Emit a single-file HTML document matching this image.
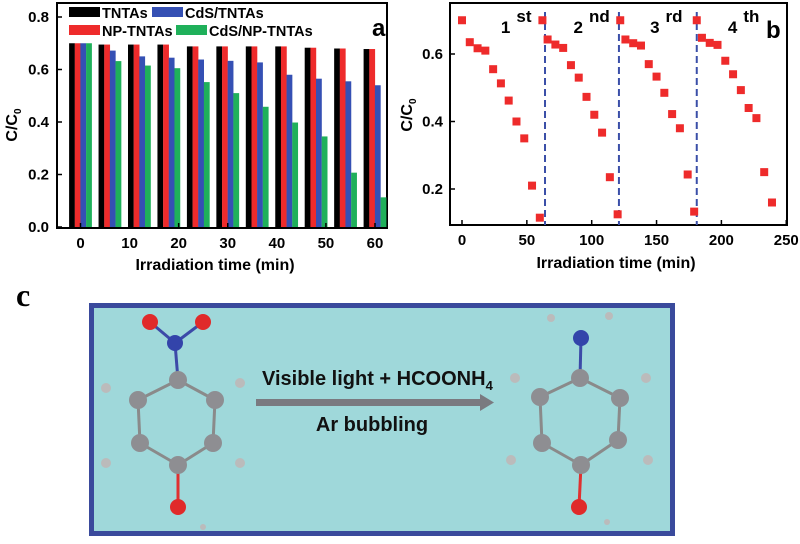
<!DOCTYPE html>
<html><head><meta charset="utf-8"><style>
body{margin:0;background:#fff;width:800px;height:539px;overflow:hidden}
svg text{font-family:"Liberation Sans",sans-serif}
</style></head><body>
<svg id="fig" width="800" height="539" viewBox="0 0 800 539">
<g id="chartA"></g>
<g id="chartB"></g>
<g id="panelC">
<text x="16" y="306" font-weight="bold" font-size="32" style="font-family:'Liberation Serif',serif">c</text>
<rect x="91.5" y="305.5" width="581" height="228" fill="#9fd8da" stroke="#3a4a9c" stroke-width="5"/>
<g stroke="#8a8a8a" stroke-width="3">
<line x1="178" y1="380" x2="138" y2="400"/><line x1="178" y1="380" x2="215" y2="400"/><line x1="138" y1="400" x2="140" y2="443"/><line x1="215" y1="400" x2="213" y2="443"/><line x1="140" y1="443" x2="178" y2="465"/><line x1="213" y1="443" x2="178" y2="465"/>
<line x1="178" y1="380" x2="175" y2="343" stroke="#3c4aa8"/><line x1="175" y1="343" x2="150" y2="322" stroke="#3c4aa8"/><line x1="175" y1="343" x2="203" y2="322" stroke="#3c4aa8"/><line x1="178" y1="465" x2="178" y2="507" stroke="#e03030"/>
<g stroke="none"><circle cx="106" cy="388" r="5" fill="#bbb"/><circle cx="240" cy="383" r="5" fill="#bbb"/><circle cx="106" cy="463" r="5" fill="#bbb"/><circle cx="240" cy="463" r="5" fill="#bbb"/><circle cx="203" cy="527" r="3" fill="#bbb"/>
<circle cx="178" cy="380" r="9" fill="#8e8e92"/><circle cx="138" cy="400" r="9" fill="#8e8e92"/><circle cx="215" cy="400" r="9" fill="#8e8e92"/><circle cx="140" cy="443" r="9" fill="#8e8e92"/><circle cx="213" cy="443" r="9" fill="#8e8e92"/><circle cx="178" cy="465" r="9" fill="#8e8e92"/>
<circle cx="175" cy="343" r="8" fill="#3344aa"/><circle cx="150" cy="322" r="8" fill="#e02a2a"/><circle cx="203" cy="322" r="8" fill="#e02a2a"/><circle cx="178" cy="507" r="8" fill="#e02a2a"/></g></g>
<g><rect x="256" y="399" width="226" height="7" fill="#7a7a80"/><polygon points="480,394 494,402.5 480,411" fill="#7a7a80"/></g>
<text x="262" y="385" font-size="20" font-weight="bold" fill="#111">Visible light + HCOONH<tspan font-size="13" dy="5">4</tspan></text>
<text x="372" y="431" font-size="20" font-weight="bold" fill="#111" text-anchor="middle">Ar bubbling</text>
<g stroke="#8a8a8a" stroke-width="3">
<line x1="580" y1="378" x2="540" y2="397"/><line x1="580" y1="378" x2="620" y2="398"/><line x1="540" y1="397" x2="542" y2="443"/><line x1="620" y1="398" x2="618" y2="440"/><line x1="542" y1="443" x2="581" y2="465"/><line x1="618" y1="440" x2="581" y2="465"/>
<line x1="580" y1="378" x2="581" y2="338" stroke="#3c4aa8"/><line x1="581" y1="465" x2="579" y2="507" stroke="#e03030"/>
<g stroke="none"><circle cx="551" cy="318" r="4" fill="#bbb"/><circle cx="609" cy="316" r="4" fill="#bbb"/><circle cx="515" cy="378" r="5" fill="#bbb"/><circle cx="646" cy="378" r="5" fill="#bbb"/><circle cx="511" cy="460" r="5" fill="#bbb"/><circle cx="648" cy="460" r="5" fill="#bbb"/><circle cx="607" cy="522" r="3" fill="#bbb"/>
<circle cx="580" cy="378" r="9" fill="#8e8e92"/><circle cx="540" cy="397" r="9" fill="#8e8e92"/><circle cx="620" cy="398" r="9" fill="#8e8e92"/><circle cx="542" cy="443" r="9" fill="#8e8e92"/><circle cx="618" cy="440" r="9" fill="#8e8e92"/><circle cx="581" cy="465" r="9" fill="#8e8e92"/>
<circle cx="581" cy="338" r="8" fill="#3344aa"/><circle cx="579" cy="507" r="8" fill="#e02a2a"/></g></g>
</g>
</svg>
<script>
// Chart a data
const timesA = [0,6,12,18,24,30,36,42,48,54,60];
const tntas = [0.70,0.695,0.695,0.695,0.688,0.688,0.688,0.688,0.683,0.680,0.678];
const npTntas = [0.70,0.695,0.695,0.695,0.688,0.688,0.688,0.688,0.683,0.680,0.678];
const cdsTntas = [0.70,0.672,0.650,0.645,0.638,0.633,0.627,0.580,0.565,0.555,0.540];
const cdsNpTntas = [0.70,0.632,0.615,0.605,0.552,0.510,0.458,0.398,0.345,0.207,0.113];
const xTicksA = [0,10,20,30,40,50,60];
const yTicksA = [0.0,0.2,0.4,0.6,0.8];
// Chart b data
const timesB = [0,6,12,18,24,30,36,42,48,54,60, 62,66,72,78,84,90,96,102,108,114,120, 122,126,132,138,144,150,156,162,168,174,179, 181,185,191,197,203,209,215,221,227,233,239];
const ratioB = [0.70,0.635,0.617,0.610,0.555,0.513,0.462,0.400,0.350,0.210,0.115, 0.70,0.643,0.628,0.618,0.567,0.530,0.473,0.420,0.367,0.235,0.125, 0.70,0.643,0.632,0.625,0.570,0.533,0.485,0.422,0.380,0.243,0.133, 0.70,0.648,0.633,0.627,0.580,0.540,0.493,0.440,0.410,0.250,0.160];
const cycleLines = [64,121,181];
const cycleLabels = [["1","st",30],["2","nd",86],["3","rd",145],["4","th",205]];
const xTicksB = [0,50,100,150,200,250];
const yTicksB = [0.2,0.4,0.6];

const NS="http://www.w3.org/2000/svg";
function mk(parent,tag,attrs,txt){const e=document.createElementNS(NS,tag);for(const k in attrs)e.setAttribute(k,attrs[k]);if(txt!==undefined)e.textContent=txt;parent.appendChild(e);return e;}

// ---- Chart A ----
const A=document.getElementById('chartA');
const axA={l:57,r:387,t:3,b:228};
const xA=t=>80.5+t*(375-80.5)/60;
const yA=v=>227-v*(210/0.8);
mk(A,'rect',{x:axA.l,y:axA.t,width:axA.r-axA.l,height:axA.b-axA.t,fill:'#fff',stroke:'#000','stroke-width':2});
const seriesA=[[tntas,'#000',-8.5],[npTntas,'#ee2b2b',-2.8],[cdsTntas,'#3550b4',2.8],[cdsNpTntas,'#1fb05a',8.5]];
const namesA=['bar-tntas','bar-np-tntas','bar-cds-tntas','bar-cds-np-tntas'];
seriesA.forEach((s,si)=>{
  timesA.forEach((t,i)=>{
    const r=mk(A,'rect',{x:xA(t)+s[2]-2.9,y:yA(s[0][i]),width:5.8,height:yA(0)-yA(s[0][i]),fill:s[1]});
    
    
  });
});
xTicksA.forEach(t=>{
  mk(A,'line',{x1:xA(t),x2:xA(t),y1:axA.b,y2:axA.b-5,stroke:'#000','stroke-width':1.5});
  const tx=mk(A,'text',{x:xA(t),y:248,'text-anchor':'middle','font-size':15,'font-weight':'bold'},t);
  
  
});
yTicksA.forEach(v=>{
  mk(A,'line',{x1:axA.l,x2:axA.l+5,y1:yA(v),y2:yA(v),stroke:'#000','stroke-width':1.5});
  const tx=mk(A,'text',{x:49,y:yA(v)+5,'text-anchor':'end','font-size':15,'font-weight':'bold'},v.toFixed(1));
  
  
});
let e=mk(A,'text',{x:215,y:270,'text-anchor':'middle','font-size':16,'font-weight':'bold'},'Irradiation time (min)');


e=mk(A,'text',{transform:'translate(17,125) rotate(-90)','text-anchor':'middle','font-size':16,'font-weight':'bold'});
e.innerHTML='C/C<tspan font-size="10" dy="4">0</tspan>';


e=mk(A,'text',{x:372,y:36,'font-size':24,'font-weight':'bold'},'a');


const legA=[['#000','TNTAs',69,7],['#3550b4','CdS/TNTAs',152,7],['#ee2b2b','NP-TNTAs',69,25],['#1fb05a','CdS/NP-TNTAs',176,25]];
legA.forEach(l=>{
  const g=mk(A,'g',{});
  
  
  mk(g,'rect',{x:l[2],y:l[3],width:31,height:10,fill:l[0]});
  mk(g,'text',{x:l[2]+33,y:l[3]+11,'font-size':14.5,'font-weight':'bold'},l[1]);
});

// ---- Chart B ----
const B=document.getElementById('chartB');
const axB={l:450,r:787,t:3,b:225};
const xB=t=>462+t*1.297;
const yB=v=>189-(v-0.2)*337.5;
mk(B,'rect',{x:axB.l,y:axB.t,width:axB.r-axB.l,height:axB.b-axB.t,fill:'#fff',stroke:'#000','stroke-width':2});
cycleLines.forEach(t=>{
  const l=mk(B,'line',{x1:xB(t),x2:xB(t),y1:12,y2:225,stroke:'#3b4fa8','stroke-width':2,'stroke-dasharray':'7,4'});
  
  
});
timesB.forEach((t,i)=>{
  const p=mk(B,'rect',{x:xB(t)-4,y:yB(ratioB[i])-4,width:8,height:8,fill:'#ee2b2b'});
  
  
});
cycleLabels.forEach(c=>{
  const tx=mk(B,'text',{x:xB(c[2]),y:33,'font-size':17,'font-weight':'bold'});
  tx.innerHTML=c[0]+'<tspan dx="6" dy="-11">'+c[1]+'</tspan>';
  
  
});
xTicksB.forEach(t=>{
  mk(B,'line',{x1:xB(t),x2:xB(t),y1:axB.b,y2:axB.b-5,stroke:'#000','stroke-width':1.5});
  const tx=mk(B,'text',{x:xB(t),y:245,'text-anchor':'middle','font-size':15,'font-weight':'bold'},t);
  
  
});
yTicksB.forEach(v=>{
  mk(B,'line',{x1:axB.l,x2:axB.l+5,y1:yB(v),y2:yB(v),stroke:'#000','stroke-width':1.5});
  const tx=mk(B,'text',{x:443,y:yB(v)+5,'text-anchor':'end','font-size':15,'font-weight':'bold'},v.toFixed(1));
  
  
});
e=mk(B,'text',{x:616,y:268,'text-anchor':'middle','font-size':16,'font-weight':'bold'},'Irradiation time (min)');


e=mk(B,'text',{transform:'translate(412,115) rotate(-90)','text-anchor':'middle','font-size':16,'font-weight':'bold'});
e.innerHTML='C/C<tspan font-size="10" dy="4">0</tspan>';


e=mk(B,'text',{x:766,y:38,'font-size':24,'font-weight':'bold'},'b');


</script>
</body></html>
